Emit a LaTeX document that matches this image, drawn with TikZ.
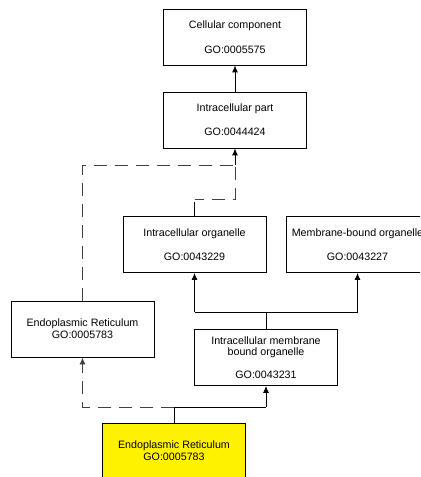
\documentclass[tikz,border=0pt]{standalone}
\usepackage{fontspec}
\setmainfont{Liberation Sans}
\usetikzlibrary{arrows.meta}
\begin{document}
\begin{tikzpicture}[x=1bp,y=-1bp,
  box/.style={draw=black, line width=0.9bp, minimum width=143bp, minimum height=56bp, inner sep=0pt, align=center, font=\fontsize{10.7bp}{12bp}\selectfont, fill=white},
  conn/.style={line width=0.9bp, -{Latex[length=7bp,width=6bp]}},
  link/.style={line width=0.9bp},
  dlink/.style={line width=0.9bp, draw=black!75, dash pattern=on 13bp off 8bp},
]
\clip (0,0) rectangle (420,477);
\fill[white] (0,0) rectangle (420,477);
\node[box] (cc) at (235,37) {Cellular component\\[13bp]GO:0005575};
\node[box] (ip) at (235,120) {Intracellular part\\[12bp]GO:0044424};
\node[box] (io) at (194.5,244.5) {Intracellular organelle\\[12bp]GO:0043229};
\node[box] (mb) at (357.5,244.5) {Membrane-bound organelle\\[12bp]GO:0043227};
\node[box] (erl) at (82.5,329) {Endoplasmic Reticulum\\GO:0005783};
\node[box] (imb) at (266,357.5) {Intracellular membrane\\[-0.5bp]bound organelle\\[11bp]GO:0043231};
\node[box, fill=yellow] (yel) at (174,451) {Endoplasmic Reticulum\\GO:0005783};
\coordinate (j1) at (235,165);
\coordinate (j2) at (235,199);
\coordinate (j3) at (194.5,199);
\coordinate (j4) at (82.5,165);
\coordinate (j5) at (194.5,202);
\coordinate (b1) at (266,312);
\coordinate (b2) at (194.5,312);
\coordinate (b3) at (357.5,312);
\coordinate (y1) at (174,407);
\coordinate (y2) at (266,407);
\coordinate (y3) at (82.5,407);
\draw[conn] (ip) -- (cc);
\draw[conn] (j1) -- (ip.south);
\draw[dlink] (erl.north) -- (j4) -- (j1);
\draw[link] (io.north) -- (j5);
\draw[dlink, dash phase=4bp] (j3) -- (j2) -- (j1);
\draw[link] (imb.north) -- (b1);
\draw[link] (b2) -- (b3);
\draw[conn] (b2) -- (io.south);
\draw[conn] (b3) -- (mb.south);
\draw[link] (yel.north) -- (y1) -- (y2);
\draw[conn] (y2) -- (imb.south);
\draw[dlink, -{Latex[length=7bp,width=6bp]}] (y1) -- (y3) -- (erl.south);
\end{tikzpicture}
\end{document}
